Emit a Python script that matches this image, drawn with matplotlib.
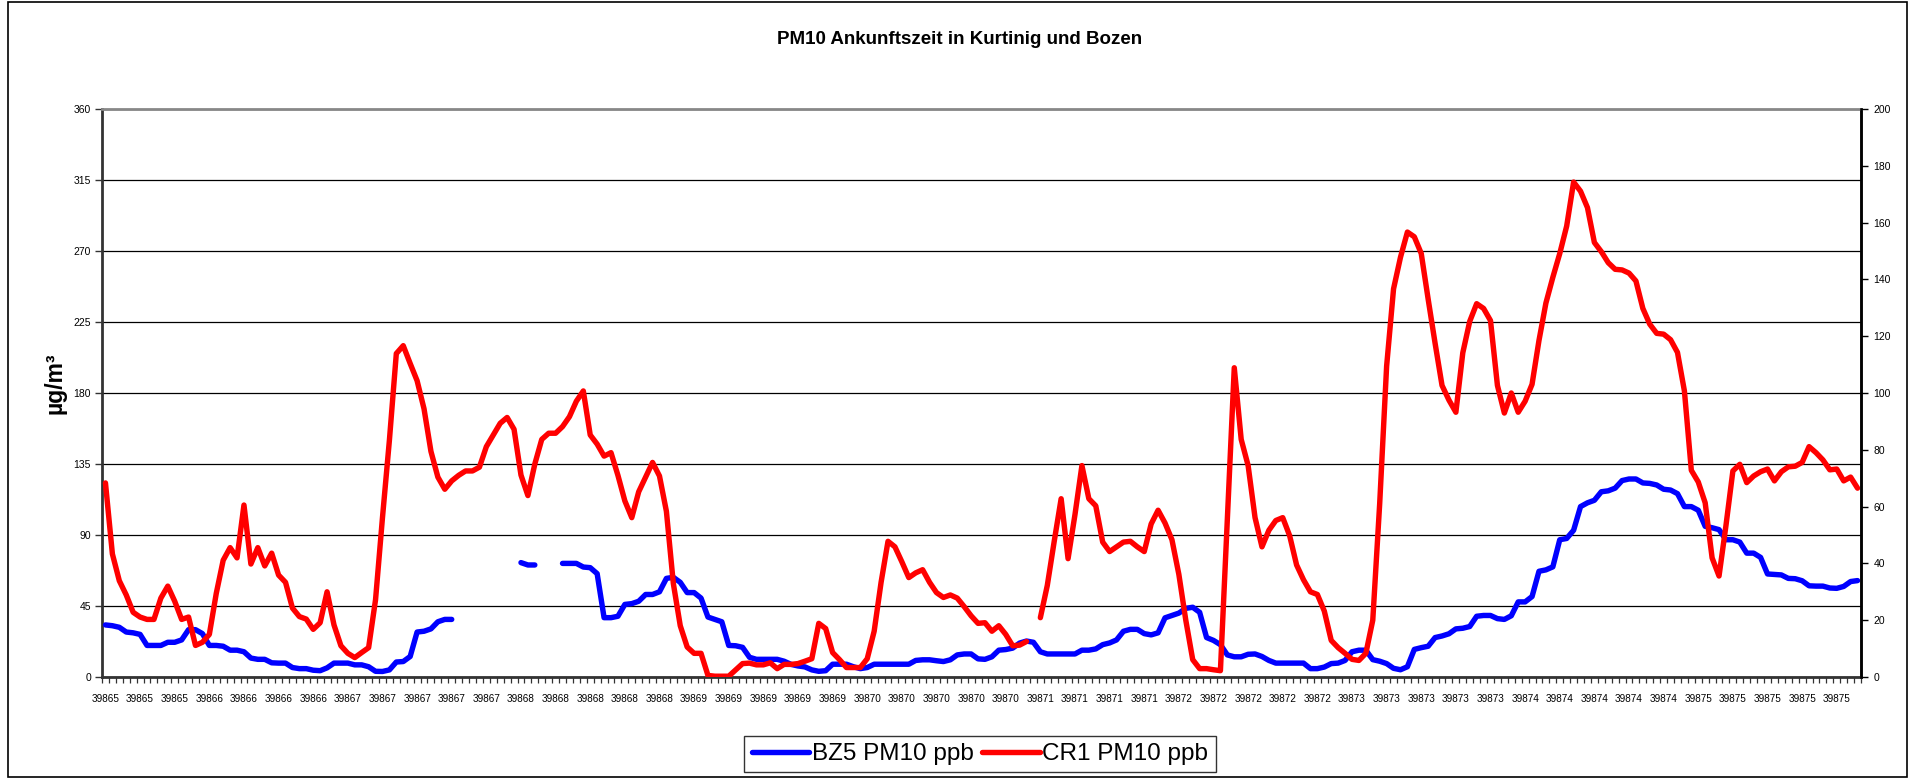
import numpy as np
import matplotlib
matplotlib.use("Agg")
import matplotlib.pyplot as plt
from matplotlib.patches import Rectangle

nan = np.nan

title = "PM10 Ankunftszeit in Kurtinig und Bozen"
ylabel = "µg/m³"
series_names = ["BZ5 PM10 ppb", "CR1 PM10 ppb"]

x_labels = (["39865"] * 3 + ["39866"] * 4 + ["39867"] * 5 + ["39868"] * 5 +
            ["39869"] * 5 + ["39870"] * 5 + ["39871"] * 4 + ["39872"] * 5 +
            ["39873"] * 5 + ["39874"] * 5 + ["39875"] * 5)
label_every = 5

bz5 = [33, 32.5, 31.5, 28.5, 28, 27, 20, 20, 20, 22,
       22, 23.5, 30, 30, 27.5, 20, 20, 19.5, 17, 17,
       16, 12, 11.2, 11.2, 9, 8.8, 8.8, 6, 5.3, 5.3,
       4.3, 4, 5.8, 8.8, 8.8, 8.8, 7.7, 7.7, 6.5, 3.6,
       3.5, 4.5, 9.5, 9.8, 13, 28.5, 29, 30.5, 35, 36.5,
       36.5, nan, nan, nan, nan, nan, nan, nan, nan, nan,
       72.5, 71, 71, nan, nan, nan, 72, 72, 72, 69.7,
       69.3, 65.5, 37.6, 37.6, 38.5, 46, 46.5, 48, 52.3, 52.3,
       54, 62.5, 63.2, 60, 53.5, 53.5, 50, 38, 36.5, 35,
       20, 19.8, 18.8, 12.5, 11.2, 11.2, 11.2, 11.2, 10, 8,
       7, 6.4, 4.5, 3.6, 4, 8.1, 8.1, 8.1, 6.5, 5.3,
       6, 8.1, 8.1, 8.1, 8.1, 8.1, 8.1, 10.5, 10.9, 10.9,
       10.3, 9.8, 10.9, 14, 14.6, 14.6, 11.5, 11.2, 12.8, 17,
       17.4, 18.3, 21.5, 22.8, 22, 16, 14.6, 14.6, 14.6, 14.6,
       14.6, 17, 17, 17.8, 20.5, 21.6, 23.5, 29, 30.2, 30.2,
       27.5, 26.7, 28, 37.5, 39, 40.5, 43.5, 44.2, 41, 25,
       23.2, 20.5, 14, 12.8, 12.8, 14.4, 14.6, 13, 10.5, 8.8,
       8.8, 8.8, 8.8, 8.8, 5.3, 5.3, 6.3, 8.5, 8.8, 10.5,
       16, 17, 17, 11, 10, 8.5, 5.5, 4.6, 6.5, 17.5,
       18.6, 19.5, 25, 26, 27.4, 30.5, 30.9, 32, 38.5, 39,
       39, 37, 36.5, 38.8, 47.6, 47.6, 51, 67, 67.9, 69.8,
       87, 87.8, 93, 108, 110.4, 112, 117.4, 118, 119.7, 124.5,
       125.5, 125.5, 123, 122.7, 121.7, 119, 118.5, 116.2, 108, 108,
       105.7, 95.5, 94.6, 93.4, 87, 87, 85.5, 78.5, 78.5, 75.8,
       65.3, 65, 64.7, 62.5, 62.3, 61, 57.8, 57.6, 57.6, 56.4,
       56.2, 57.4, 60.5, 61.1]

cr1 = [123, 78, 61, 52, 41, 38, 36.5, 36.5, 50, 57.6,
       48, 36.5, 38, 20, 22, 27, 53, 74, 82, 75.5,
       109, 71.6, 82, 70.4, 78.5, 64.6, 60, 43.7, 38.3, 36.7,
       30.2, 34.4, 54, 33, 19.8, 15, 12.3, 15.5, 18.6, 49,
       101, 150, 205, 210, 198.7, 187.8, 170, 143, 126.7, 119,
       124.3, 127.8, 130.6, 130.6, 133, 146, 153.4, 160.8, 164.5, 157,
       128, 115, 135, 150.6, 154.5, 154.5, 158.7, 165, 174.8, 181.3,
       153.4, 147.6, 140, 142.2, 127.8, 111.6, 101, 117.4, 126.7, 136,
       127.4, 105, 59.3, 32.5, 19, 15, 15, 1, 0.5, 0.5,
       0.5, 4.5, 8.5, 8.8, 7.7, 7.7, 9, 5.3, 8, 8,
       8.5, 10, 11.6, 34, 30.7, 15.5, 11, 6, 6, 6,
       11.6, 29, 60, 86, 82.5, 73, 63, 66, 68, 60,
       53.5, 50.4, 52, 50, 44.6, 38.8, 34, 34.4, 29, 32.5,
       27, 19.8, 20.2, 22.5, nan, 37.6, 58, 86, 113, 75,
       103, 134, 113, 108.5, 85.5, 79.5, 82.5, 85.5, 86, 82.5,
       79.5, 97, 105.7, 97.6, 87, 65, 36, 11, 5.3, 5.3,
       4.6, 4, 100, 196, 150.6, 134, 101, 82.5, 93, 99.2,
       101, 89.5, 71, 61.6, 54, 52.3, 41.8, 23.2, 18.6, 15,
       11.2, 10.5, 15, 36, 110, 197, 246, 266, 282, 279,
       268.4, 239.4, 211.5, 184.8, 175.5, 167.8, 205.5, 225.4, 236.6, 233.6,
       225.9, 184.8, 167.3, 180, 167.8, 174.8, 185.5, 213.3, 237, 253.3,
       268.4, 285.8, 313.7, 307.9, 297.5, 275.4, 269.6, 262.6, 258.4, 258,
       256, 251, 233.6, 223.6, 217.8, 217.3, 213.8, 205.7, 181.3, 131,
       123.6, 110.4, 75.5, 64, 96, 130.6, 134.8, 123.2, 127.4, 130.1,
       131.8, 124.3, 130.1, 133.2, 133.6, 136, 146, 142.2, 137.6, 131.3,
       131.8, 124.3, 126.7, 119.7]

left_ticks = list(range(0, 361, 45))
right_ticks = list(range(0, 201, 20))

plt.rcParams['font.family'] = ['Liberation Sans', 'DejaVu Sans']

W, H = 1910, 779
fig = plt.figure(figsize=(W / 100, H / 100), dpi=100)
ax = fig.add_axes([102 / W, 1 - 677 / H, (1861 - 102) / W, (677 - 109) / H])

n = len(cr1)
x = np.arange(n)
ax.plot(x, bz5, color='#0000FF', lw=3.9, solid_joinstyle='round',
        solid_capstyle='round', label=series_names[0], zorder=3)
ax.plot(x, cr1, color='#FF0000', lw=3.9, solid_joinstyle='round',
        solid_capstyle='round', label=series_names[1], zorder=4)

ax.set_xlim(-0.5, n - 0.5)
ax.set_ylim(0, 360)
ax.set_yticks(left_ticks)
ax.set_yticklabels([str(v) for v in left_ticks], fontsize=7.5)
ax.yaxis.grid(True, color='black', lw=0.9)
ax.set_axisbelow(True)
ax.tick_params(axis='y', length=5, width=1, pad=3, color='#333333')

pos = np.arange(0, n, label_every)[:len(x_labels)]
ax.set_xticks(pos)
ax.set_xticklabels(x_labels, fontsize=7.2)
ax.tick_params(axis='x', which='major', length=0, pad=12.5)
ax.set_xticks(np.arange(-0.5, n, 1), minor=True)
ax.tick_params(axis='x', which='minor', length=4, width=0.9, color='#333333')

for s in ['left', 'bottom']:
    ax.spines[s].set_color('#333333')
    ax.spines[s].set_linewidth(2)
ax.spines['right'].set_color('black')
ax.spines['right'].set_linewidth(1.8)
ax.spines['top'].set_color('#888888')
ax.spines['top'].set_linewidth(2)

ax2 = ax.twinx()
ax2.set_ylim(0, 200)
ax2.set_yticks(right_ticks)
ax2.set_yticklabels([str(v) for v in right_ticks], fontsize=7.5)
ax2.tick_params(axis='y', length=5, width=1, pad=4)
for s in ['left', 'bottom', 'top']:
    ax2.spines[s].set_visible(False)
ax2.spines['right'].set_color('black')
ax2.spines['right'].set_linewidth(1.8)

fig.text(960 / W, 1 - 40 / H, title, ha='center', va='center',
         fontsize=13.5, fontweight='bold')
fig.text(55 / W, 1 - 383 / H, ylabel, ha='center', va='center',
         rotation=90, fontsize=16.5, fontweight='bold')

leg = fig.legend(loc='center', bbox_to_anchor=(980 / W, 1 - 754 / H), ncol=2,
                 fontsize=17.5, frameon=True, fancybox=False, handlelength=2.35,
                 handletextpad=0.12, columnspacing=0.37, borderpad=0.3,
                 borderaxespad=0)
leg.get_frame().set_edgecolor('black')
leg.get_frame().set_linewidth(1)

fig.add_artist(Rectangle((8 / W, 2 / H), (1907 - 8) / W, (777 - 2) / H,
                         transform=fig.transFigure, fill=False,
                         edgecolor='black', lw=1.2))

fig.savefig("out.png", dpi=100)
